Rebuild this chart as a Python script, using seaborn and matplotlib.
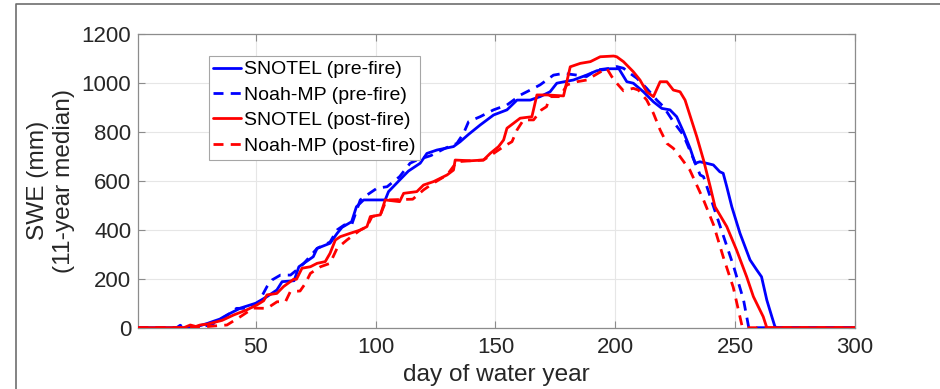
import matplotlib
matplotlib.use("Agg")
import matplotlib.pyplot as plt
import seaborn as sns
import pandas as pd
from matplotlib.lines import Line2D

# ---- data ----
pre_obs_day = [1, 22, 26, 30, 32, 35, 38, 43.6, 50, 54.7, 58.8, 61, 66, 68, 74, 75.6, 81, 84, 86, 90, 92, 95,
               104, 105.4, 110, 113.7, 118.6, 121.4, 125.6, 132.5, 135.3, 138.8, 143.6, 149.2, 154.8, 159,
               164.5, 168.6, 172.8, 175.6, 182.5, 188, 192.3, 197.8, 201.5, 204.8, 207.5, 211.7, 215.9,
               219.4, 222.8, 225.6, 228.4, 231.2, 233.3, 235.3, 238, 240.9, 243.6, 245, 246.5, 248.6, 252,
               256.2, 259, 261, 263.2, 265.3, 266.6, 267.5, 300]
pre_obs_swe = [0, 0, 6, 18, 25, 35, 52, 80, 100, 127, 154, 188, 192, 249, 290, 324, 345, 386, 410, 433, 494, 522,
               522, 556, 603, 640, 672, 712, 726, 740, 760, 790, 828, 869, 890, 930,
               930, 944, 964, 999, 1012, 1032, 1050, 1058, 1058, 1005, 999, 964, 923,
               896, 890, 862, 801, 733, 672, 678, 672, 665, 637, 631, 576, 494, 386,
               277, 236, 208, 113, 45, 4, 0, 0]

pre_mod_day = [1, 17, 18.5, 20, 26, 32, 38, 42, 47.5, 51, 54.7, 56.8, 60.3, 64.5, 67, 70, 75.6, 81, 84, 87, 90,
               93.6, 96.4, 100.6, 104.8, 110, 114.4, 117.2, 123, 129, 133.9, 136.7, 138.8, 143.6, 149.2,
               154.8, 160.5, 164.5, 168.6, 174.2, 178.4, 184, 188, 192.3, 197.8, 200.6, 203.4, 206.2, 209,
               213.1, 217.3, 220.1, 224.2, 228.4, 231.9, 235.4, 236.8, 241, 245.2, 249.4, 253.5, 255.6, 256, 300]
pre_mod_swe = [0, 0, 10, 0, 0, 15, 50, 79, 79, 100, 168, 195, 215, 215, 235, 262, 324, 350, 400, 420, 420,
               522, 542, 570, 576, 617, 672, 685, 703, 733, 753, 794, 842, 862, 890,
               910, 951, 971, 992, 1032, 1039, 1032, 1026, 1053, 1060, 1067, 1060, 1039, 1019,
               978, 930, 903, 842, 787, 706, 624, 617, 494, 372, 249, 113, 4, 0, 0]

post_obs_day = [1, 20, 22.7, 25, 26.8, 30, 32, 36, 40.8, 46.3, 50.5, 53.3, 54.7, 58.8, 61.6, 65.8, 67, 69.3,
                72.8, 75.6, 79, 81, 83.2, 85.3, 89.5, 93.6, 96.4, 97.8, 102, 104, 110, 111.7, 117.2, 120,
                124.2, 129.8, 132.5, 133.2, 139.5, 145, 147.8, 151.3, 153.4, 154.8, 157.5, 160.3, 165.2,
                167.3, 171.5, 178.4, 181.2, 185.4, 189.6, 193.7, 199.3, 200.6, 203.4, 207.5, 210.3, 213.1,
                215.9, 218.7, 221.5, 224.2, 227, 229.1, 234, 236.8, 239.6, 241.6, 246.5, 250.6, 254.8,
                257.6, 261.7, 263.2, 300]
post_obs_swe = [0, 0, 11, 5, 11, 15, 20, 30, 52, 73, 93, 110, 134, 140, 168, 198, 198, 243,
                249, 263, 270, 304, 358, 372, 386, 399, 413, 454, 461, 522, 515, 549, 556, 583,
                597, 624, 644, 685, 682, 685, 712, 740, 767, 815, 835, 856, 862,
                951, 951, 947, 1066, 1080, 1087, 1107, 1110, 1107, 1087, 1046, 1012, 964,
                944, 1005, 1005, 971, 964, 930, 780, 685, 576, 494, 413, 317, 208,
                127, 45, 0, 0]

post_mod_day = [1, 26, 30, 34, 38, 43.6, 49, 54.7, 58.9, 62.4, 64.4, 68.5, 70.7, 72.8, 77, 81, 83.9, 88,
                93.6, 96.4, 98.5, 102, 104.5, 115.5, 120, 124, 129.8, 133.9, 139.5, 145, 149.2, 153.4,
                156.9, 159, 161.7, 165.9, 169.2, 171.3, 172.8, 177, 179.8, 184, 188.1, 191.5, 196.4,
                198.5, 200.6, 203.4, 207.5, 209.6, 213.1, 215.9, 218.7, 221.5, 224.2, 227, 231.1,
                236.8, 241, 245, 249.2, 252.8, 253.3, 300]
post_mod_swe = [0, 0, 5, 8, 11, 45, 80, 79, 106, 106, 147, 150, 181, 222, 249, 263, 324, 358,
                399, 413, 454, 461, 522, 525, 563, 590, 624, 678, 682, 685, 712, 740,
                760, 808, 849, 849, 890, 903, 944, 944, 992, 1005, 1012, 1032, 1060,
                1026, 999, 968, 978, 971, 930, 876, 808, 753, 733, 699, 644,
                522, 420, 290, 165, 10, 0, 0]

labels = ["SNOTEL (pre-fire)", "Noah-MP (pre-fire)", "SNOTEL (post-fire)", "Noah-MP (post-fire)"]
x_ticks = [50, 100, 150, 200, 250, 300]
y_ticks = [0, 200, 400, 600, 800, 1000, 1200]

# ---- style ----
sns.set_theme(style="white")
plt.rcParams["font.family"] = ["Liberation Sans", "DejaVu Sans"]

fig = plt.figure(figsize=(9.4, 3.89), dpi=100)
ax = fig.add_axes([0.1471, 0.1576, 0.7625, 0.755])

dash = (0, (3.6, 2.6))
series = [
    (pre_obs_day, pre_obs_swe, "#0000ff", "-", 3),
    (pre_mod_day, pre_mod_swe, "#0000ff", dash, 4),
    (post_obs_day, post_obs_swe, "#ff0000", "-", 5),
    (post_mod_day, post_mod_swe, "#ff0000", dash, 4.5),
]
for (d, s, c, ls, z), lab in zip(series, labels):
    df = pd.DataFrame({"day": d, "swe": s})
    sns.lineplot(data=df, x="day", y="swe", ax=ax, color=c, linestyle=ls, linewidth=2.0,
                 estimator=None, sort=False, label=lab, zorder=z)

ax.set_xlim(1, 300)
ax.set_ylim(0, 1200)
ax.set_xticks(x_ticks)
ax.set_yticks(y_ticks)
ax.grid(True, color="#e6e6e6", linewidth=0.8)
ax.set_axisbelow(True)
for sp in ax.spines.values():
    sp.set_color("#8c8c8c")
    sp.set_linewidth(0.9)
ax.tick_params(direction="in", length=5, width=0.8, color="#8c8c8c", labelsize=16,
               labelcolor="#262626", top=True, right=True, bottom=True, left=True, pad=5)
ax.tick_params(axis="x", pad=7)
ax.set_xlabel("day of water year", fontsize=17.6, color="#262626", labelpad=4)
ax.set_ylabel("SWE (mm)\n(11-year median)", fontsize=17.6, color="#262626", labelpad=5)

handles = [Line2D([0], [0], color=c, linestyle=ls, linewidth=2.0) for (_, _, c, ls, _) in series]
leg = ax.legend(handles, labels, loc="upper left", bbox_to_anchor=(0.098, 0.925), fontsize=14,
                frameon=True, fancybox=False, framealpha=1, edgecolor="#a6a6a6",
                handlelength=1.4, handletextpad=0.15, labelspacing=0.4, borderpad=0.25,
                borderaxespad=0)
leg.get_frame().set_linewidth(0.8)
for t in leg.get_texts():
    t.set_color("#000000")

# outer figure frame (cropped screenshot border)
fig.add_artist(Line2D([0.0175, 0.0175, 1.0], [0.0, 0.9895, 0.9895], transform=fig.transFigure,
                      color="#6e6e6e", linewidth=1.2))

fig.savefig("out.png", dpi=100)
